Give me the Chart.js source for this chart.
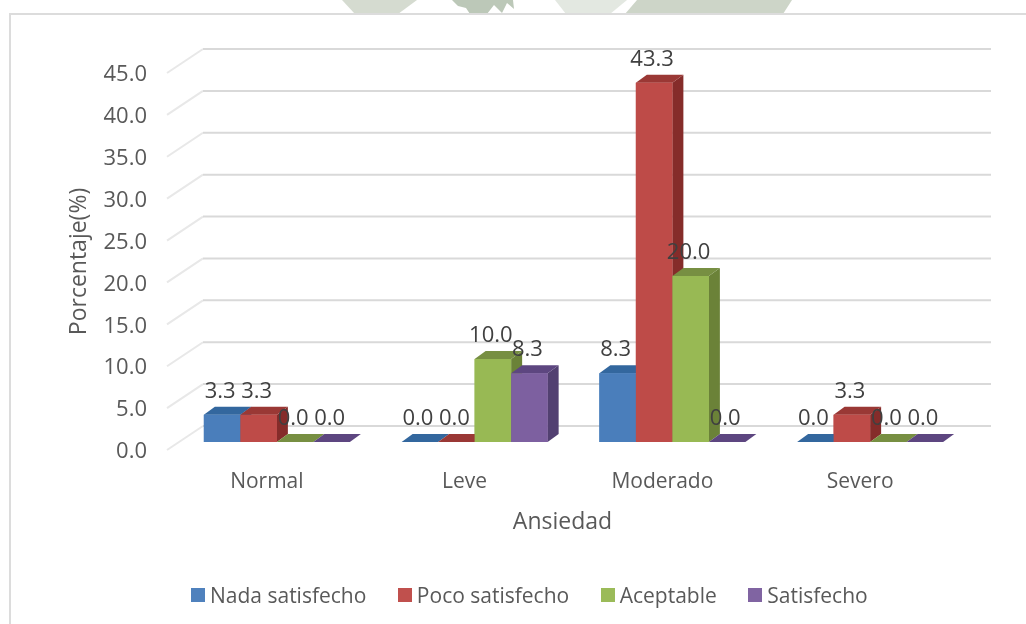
<!DOCTYPE html>
<html lang="es">
<head>
    <meta charset="UTF-8" />
    <title>Ansiedad</title>
    <script src="https://cdn.jsdelivr.net/npm/chart.js"></script>
    <style>
        body {
            margin: 0;
            background: #fff;
            width: 1026px;
            height: 624px;
            overflow: hidden;
            position: relative;
            font-family: "Open Sans", sans-serif;
        }

        #mark { position: absolute; left: 0; top: 0; }

        #frame {
            position: absolute;
            left: 9px;
            top: 13px;
            right: 0;
            bottom: 0;
            border-left: 2px solid #dcdcdc;
            border-top: 2px solid #dcdcdc;
        }

        canvas { position: absolute; left: 0; top: 0; }

        #legend {
            position: absolute;
            left: 191px;
            top: 581px;
            display: flex;
            align-items: center;
            font-size: 21px;
            line-height: 28px;
            color: #595959;
            white-space: nowrap;
        }

        #legend i {
            width: 14px;
            height: 14px;
            margin-right: 5px;
        }

        #legend span { margin-right: 31.5px; }
    </style>
</head>
<body>
    <svg id="mark" width="1026" height="14">
        <polygon points="342,0 417,0 398,14 355,14" fill="#d5dbd0" />
        <polygon points="452,0 513,0 514,9 507,3 502,13 494,5 487,14 470,14 466,8 458,6" fill="#bcc8b8" />
        <polygon points="555,0 627,0 610,14 566,14" fill="#e3e8e1" />
        <polygon points="637,0 792,0 783,14 625,14" fill="#cdd5c8" />
    </svg>
    <div id="frame"></div>
    <canvas id="chart" width="1026" height="624"></canvas>
    <div id="legend"></div>

    <script>
        const categories = ['Normal', 'Leve', 'Moderado', 'Severo'];
        const seriesNames = ['Nada satisfecho', 'Poco satisfecho', 'Aceptable', 'Satisfecho'];
        const nadaSatisfecho = [3.3, 0.0, 8.3, 0.0];
        const pocoSatisfecho = [3.3, 0.0, 43.3, 3.3];
        const aceptable = [0.0, 10.0, 20.0, 0.0];
        const satisfecho = [0.0, 8.3, 0.0, 0.0];

        const frontColors = ['#4a7ebb', '#be4b48', '#98b954', '#7d60a0'];
        const topColors = ['#33679e', '#9a3835', '#778f42', '#5d4680'];
        const sideColors = ['#2c5a8c', '#852c2a', '#6b8238', '#524071'];
        const legendColors = ['#4f81bd', '#c0504d', '#9bbb59', '#8064a2'];

        const FONT = '"Open Sans", sans-serif';
        const depthX = 11;
        const depthY = 8;

        function face(ctx, color, pts) {
            ctx.fillStyle = color;
            ctx.beginPath();
            pts.forEach((p, i) => i ? ctx.lineTo(p[0], p[1]) : ctx.moveTo(p[0], p[1]));
            ctx.closePath();
            ctx.fill();
        }

        // fake 3D look: back wall + floor lines and the extra bar faces
        const fake3d = {
            id: 'fake3d',
            beforeDatasetsDraw(chart) {
                const { ctx, chartArea, scales } = chart;
                ctx.save();
                ctx.lineWidth = 2;
                scales.y.ticks.forEach(t => {
                    const y = scales.y.getPixelForValue(t.value);
                    ctx.strokeStyle = '#e8e8e8';
                    ctx.beginPath();
                    ctx.moveTo(chartArea.left - 11, y);
                    ctx.lineTo(chartArea.left + 25, y - 24);
                    ctx.stroke();
                    ctx.strokeStyle = '#d9d9d9';
                    ctx.beginPath();
                    ctx.moveTo(chartArea.left + 25, y - 24);
                    ctx.lineTo(chartArea.right + 22, y - 24);
                    ctx.stroke();
                });
                ctx.restore();
            },
            afterDatasetsDraw(chart) {
                const { ctx, chartArea } = chart;
                ctx.save();
                categories.forEach((c, idx) => {
                    chart.data.datasets.forEach((ds, d) => {
                        const bar = chart.getDatasetMeta(d).data[idx];
                        const l = bar.x - bar.width / 2;
                        const r = bar.x + bar.width / 2;
                        face(ctx, sideColors[d], [[r, bar.y], [r + depthX, bar.y - depthY], [r + depthX, bar.base - depthY], [r, bar.base]]);
                        face(ctx, topColors[d], [[l, bar.y], [l + depthX, bar.y - depthY], [r + depthX, bar.y - depthY], [r, bar.y]]);
                        bar.draw(ctx);
                    });
                });

                ctx.font = '22px ' + FONT;
                ctx.fillStyle = '#404040';
                ctx.textAlign = 'center';
                ctx.textBaseline = 'middle';
                chart.data.datasets.forEach((ds, d) => {
                    chart.getDatasetMeta(d).data.forEach((bar, i) => {
                        ctx.fillText(ds.data[i].toFixed(1), bar.x - 2, bar.y - 23);
                    });
                });

                ctx.font = '23px ' + FONT;
                ctx.fillStyle = '#595959';
                ctx.fillText('Ansiedad', (chartArea.left + chartArea.right) / 2 - 11, 522);
                ctx.restore();
            }
        };

        const allSeries = [nadaSatisfecho, pocoSatisfecho, aceptable, satisfecho];

        new Chart(document.getElementById('chart'), {
            type: 'bar',
            data: {
                labels: categories,
                datasets: allSeries.map((values, i) => ({
                    label: seriesNames[i],
                    data: values,
                    backgroundColor: frontColors[i],
                    yAxisID: 'yBars',
                    categoryPercentage: 0.7385,
                    barPercentage: 1
                }))
            },
            options: {
                responsive: false,
                animation: false,
                layout: { padding: { top: 73, right: 57, bottom: 0, left: 0 } },
                plugins: { legend: { display: false }, tooltip: { enabled: false } },
                scales: {
                    x: {
                        grid: { display: false },
                        border: { display: false },
                        ticks: {
                            color: '#595959',
                            font: { family: FONT, size: 21 },
                            padding: 11,
                            labelOffset: -10,
                            maxRotation: 0,
                            autoSkip: false
                        },
                        afterFit(scale) { scale.height = 174; }
                    },
                    y: {
                        position: 'left',
                        min: 0,
                        max: 45,
                        grid: { display: false },
                        border: { display: false },
                        ticks: {
                            stepSize: 5,
                            color: '#595959',
                            font: { family: FONT, size: 22 },
                            padding: 23,
                            labelOffset: 2,
                            callback: v => v.toFixed(1)
                        },
                        title: {
                            display: true,
                            text: 'Porcentaje(%)',
                            color: '#595959',
                            font: { family: FONT, size: 23 },
                            padding: { top: 66, bottom: 0 }
                        },
                        afterFit(scale) { scale.width = 178; }
                    },
                    // the bars stand in a plane in front of the axis labels
                    yBars: {
                        display: false,
                        min: -0.96,
                        max: 44.46
                    }
                }
            },
            plugins: [fake3d]
        });

        const legend = document.getElementById('legend');
        seriesNames.forEach((name, i) => {
            const box = document.createElement('i');
            box.style.background = legendColors[i];
            const text = document.createElement('span');
            text.textContent = name;
            legend.append(box, text);
        });
    </script>
</body>
</html>
